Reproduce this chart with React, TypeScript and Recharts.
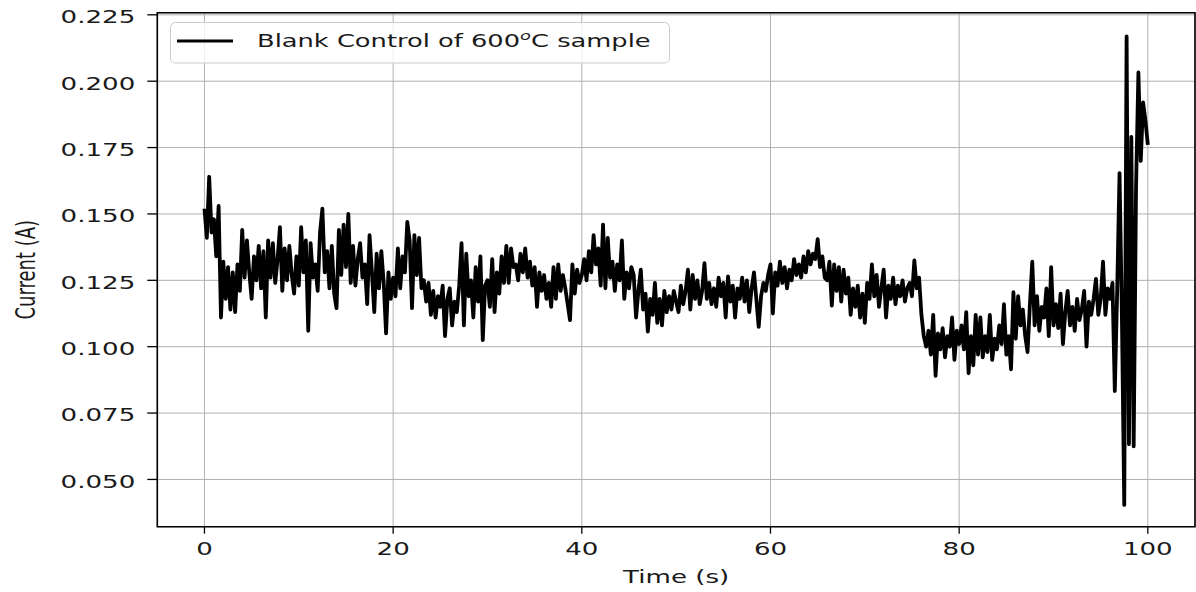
import { CartesianGrid, Legend, Line, LineChart, ReferenceArea, XAxis, YAxis } from "recharts";

// sampling interval of the logger, seconds
const SAMPLE_STEP_S = 0.25;

// current readings in A, one every 0.25 s from t = 0 to t = 100
const currentA = [
  0.152, 0.141, 0.164, 0.143, 0.148, 0.134, 0.153, 0.111, 0.132, 0.118, 0.130, 0.114, 0.128, 0.113, 0.131, 0.121, 0.144, 0.126, 0.140, 0.128,
  0.118, 0.134, 0.125, 0.138, 0.122, 0.136, 0.111, 0.140, 0.126, 0.139, 0.124, 0.133, 0.145, 0.121, 0.137, 0.125, 0.138, 0.127, 0.120, 0.134,
  0.123, 0.145, 0.128, 0.140, 0.106, 0.139, 0.126, 0.131, 0.121, 0.143, 0.152, 0.128, 0.136, 0.122, 0.138, 0.120, 0.1145, 0.144, 0.127, 0.146,
  0.130, 0.150, 0.124, 0.138, 0.123, 0.133, 0.139, 0.126, 0.131, 0.116, 0.142, 0.128, 0.113, 0.135, 0.122, 0.136, 0.124, 0.105, 0.128, 0.118,
  0.126, 0.119, 0.137, 0.122, 0.134, 0.128, 0.147, 0.140, 0.1145, 0.142, 0.127, 0.141, 0.122, 0.125, 0.117, 0.124, 0.112, 0.121, 0.111, 0.119,
  0.115, 0.123, 0.104, 0.118, 0.122, 0.108, 0.117, 0.113, 0.123, 0.139, 0.108, 0.135, 0.119, 0.125, 0.111, 0.130, 0.117, 0.134, 0.1025, 0.123,
  0.125, 0.115, 0.133, 0.113, 0.128, 0.120, 0.134, 0.124, 0.138, 0.124, 0.137, 0.130, 0.131, 0.125, 0.135, 0.128, 0.137, 0.126, 0.132, 0.123,
  0.130, 0.115, 0.128, 0.121, 0.127, 0.118, 0.124, 0.115, 0.130, 0.118, 0.131, 0.121, 0.127, 0.122, 0.116, 0.110, 0.131, 0.120, 0.129, 0.124,
  0.127, 0.133, 0.125, 0.136, 0.128, 0.142, 0.131, 0.137, 0.123, 0.146, 0.122, 0.141, 0.126, 0.132, 0.121, 0.131, 0.125, 0.140, 0.118, 0.128,
  0.122, 0.130, 0.127, 0.111, 0.121, 0.129, 0.114, 0.120, 0.1057, 0.118, 0.112, 0.124, 0.109, 0.118, 0.108, 0.121, 0.113, 0.119, 0.114, 0.121,
  0.117, 0.113, 0.123, 0.116, 0.121, 0.129, 0.114, 0.127, 0.118, 0.125, 0.116, 0.121, 0.1315, 0.118, 0.124, 0.116, 0.122, 0.115, 0.126, 0.119,
  0.124, 0.111, 0.1265, 0.117, 0.123, 0.111, 0.122, 0.118, 0.126, 0.117, 0.125, 0.113, 0.122, 0.128, 0.118, 0.1075, 0.119, 0.124, 0.121, 0.127,
  0.131, 0.1125, 0.128, 0.123, 0.132, 0.124, 0.130, 0.122, 0.129, 0.125, 0.133, 0.127, 0.131, 0.126, 0.134, 0.128, 0.136, 0.131, 0.135, 0.133,
  0.1405, 0.130, 0.134, 0.126, 0.125, 0.132, 0.1155, 0.131, 0.121, 0.130, 0.117, 0.129, 0.120, 0.126, 0.112, 0.122, 0.115, 0.123, 0.111, 0.120,
  0.109, 0.124, 0.118, 0.131, 0.119, 0.127, 0.115, 0.122, 0.129, 0.111, 0.123, 0.118, 0.126, 0.116, 0.123, 0.119, 0.125, 0.117, 0.122, 0.124,
  0.119, 0.1325, 0.122, 0.126, 0.112, 0.104, 0.100, 0.106, 0.097, 0.112, 0.089, 0.105, 0.099, 0.107, 0.096, 0.104, 0.100, 0.111, 0.095, 0.106,
  0.101, 0.108, 0.099, 0.113, 0.090, 0.104, 0.093, 0.112, 0.097, 0.111, 0.096, 0.104, 0.098, 0.112, 0.095, 0.103, 0.099, 0.108, 0.101, 0.116,
  0.097, 0.104, 0.0915, 0.1205, 0.103, 0.119, 0.108, 0.114, 0.104, 0.098, 0.116, 0.132, 0.108, 0.119, 0.106, 0.115, 0.111, 0.122, 0.104, 0.130,
  0.108, 0.116, 0.107, 0.120, 0.101, 0.113, 0.121, 0.108, 0.115, 0.106, 0.118, 0.110, 0.114, 0.121, 0.100, 0.117, 0.112, 0.118, 0.1255, 0.112,
  0.118, 0.132, 0.112, 0.122, 0.118, 0.124, 0.0833, 0.121, 0.1654, 0.112, 0.0404, 0.2169, 0.0633, 0.179, 0.0625, 0.160, 0.2033, 0.170, 0.192, 0.185,
  0.176,
];

const xTicks = [0, 20, 40, 60, 80, 100];
const yTicks = [0.05, 0.075, 0.1, 0.125, 0.15, 0.175, 0.2, 0.225];
const xDomain = [-5, 105];
const yDomain = [0.0322, 0.2258];

const xLabel = "Time (s)";
const yLabel = "Current (A)";
const legendParts = ["Blank Control of 600", "o", "C sample"];

const data = currentA.map((current, i) => ({ time: i * SAMPLE_STEP_S, current }));

const FONT = "'DejaVu Sans', sans-serif";
const TEXT = "#1a1a1a";
// the reference image is stretched sideways, so the text is too
const STRETCH = 1.45;

function XTick({ x, y, payload }: any) {
  return (
    <g transform={`translate(${x},${y})`}>
      <text transform={`scale(${STRETCH},1)`} y={21} textAnchor="middle" fontFamily={FONT} fontSize={18} fill={TEXT}>
        {payload.value}
      </text>
    </g>
  );
}

function YTick({ x, y, payload }: any) {
  return (
    <g transform={`translate(${x},${y})`}>
      <text transform={`scale(${STRETCH},1)`} y={8.4} textAnchor="end" fontFamily={FONT} fontSize={18} fill={TEXT}>
        {Number(payload.value).toFixed(3)}
      </text>
    </g>
  );
}

function XTitle({ viewBox }: any) {
  const vb = viewBox || { x: 157, y: 527, width: 1038, height: 65 };
  return (
    <g transform={`translate(${vb.x + vb.width / 2},${vb.y + 56.5})`}>
      <text transform={`scale(${STRETCH},1)`} textAnchor="middle" fontFamily={FONT} fontSize={18} fill={TEXT}>
        {xLabel}
      </text>
    </g>
  );
}

function YTitle({ viewBox }: any) {
  const vb = viewBox || { x: 0, y: 13, width: 157, height: 514 };
  return (
    <g transform={`translate(35,${vb.y + vb.height / 2}) scale(${STRETCH},1) rotate(-90)`}>
      <text textAnchor="middle" fontFamily={FONT} fontSize={18} fill={TEXT}>
        {yLabel}
      </text>
    </g>
  );
}

function LegendBox() {
  return (
    <svg width={500} height={42} style={{ display: "block" }}>
      <rect x={0.5} y={0.5} width={499} height={40.5} rx={5} fill="#ffffff" fillOpacity={0.8} stroke="#cccccc" />
      <line x1={7} x2={63} y1={19} y2={19} stroke="#000" strokeWidth={3} />
      <g transform={`translate(87,24.5) scale(1.43,1)`}>
        <text fontFamily={FONT} fontSize={18} fill={TEXT}>
          {legendParts[0]}
          <tspan fontSize={12.5} fontStyle="italic" dy={-7}>
            {legendParts[1]}
          </tspan>
          <tspan dy={7}>{legendParts[2]}</tspan>
        </text>
      </g>
    </svg>
  );
}

export default function App() {
  return (
    <div style={{ position: "absolute", left: 0, top: 0, background: "#fff" }}>
      <LineChart width={1196} height={592} data={data} margin={{ top: 12.7, right: 1, left: 0, bottom: 0 }}>
        <CartesianGrid stroke="#b0b0b0" strokeWidth={1} />
        <XAxis
          dataKey="time"
          type="number"
          domain={xDomain}
          ticks={xTicks}
          allowDataOverflow
          height={65.3}
          axisLine={false}
          tickSize={7}
          tickMargin={0}
          tickLine={{ stroke: "#000", strokeWidth: 1.3 }}
          tick={<XTick />}
          label={<XTitle />}
        />
        <YAxis
          type="number"
          domain={yDomain}
          ticks={yTicks}
          allowDataOverflow
          width={157.3}
          axisLine={false}
          tickSize={10}
          tickMargin={12}
          tickLine={{ stroke: "#000", strokeWidth: 1.3 }}
          tick={<YTick />}
          label={<YTitle />}
        />
        <Legend
          verticalAlign="middle"
          align="center"
          layout="horizontal"
          wrapperStyle={{ left: 170, top: 22, width: 500, height: 42 }}
          content={() => <LegendBox />}
        />
        <Line
          type="linear"
          dataKey="current"
          name="Blank Control of 600oC sample"
          stroke="#000"
          strokeWidth={3.8}
          strokeLinejoin="round"
          dot={false}
          activeDot={false}
          isAnimationActive={false}
        />
        <ReferenceArea x1={xDomain[0]} x2={xDomain[1]} y1={yDomain[0]} y2={yDomain[1]} fill="none" stroke="#000" strokeWidth={1.6} />
      </LineChart>
    </div>
  );
}
